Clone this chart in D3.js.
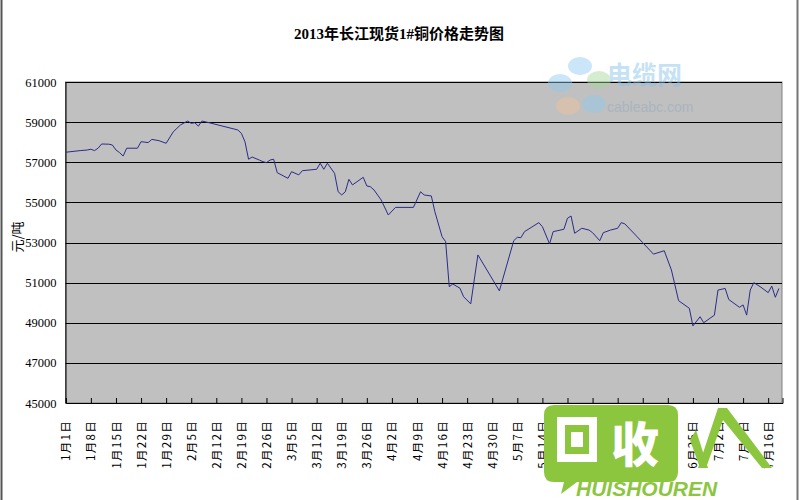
<!DOCTYPE html>
<html><head><meta charset="utf-8">
<script src="https://cdn.jsdelivr.net/npm/d3@7/dist/d3.min.js"></script>
<style>body{margin:0;background:#fff}svg{display:block}</style>
</head><body>
<svg id="c" width="800" height="500"></svg>
<script>
const title = "2013年长江现货1#铜价格走势图";
const yTitle = "元/吨";
const dates = ["2013-01-01","2013-01-05","2013-01-07","2013-01-08","2013-01-09","2013-01-10","2013-01-11","2013-01-13","2013-01-14","2013-01-15","2013-01-16","2013-01-17","2013-01-18","2013-01-21","2013-01-22","2013-01-24","2013-01-25","2013-01-27","2013-01-29","2013-01-31","2013-02-01","2013-02-02","2013-02-04","2013-02-05","2013-02-06","2013-02-07","2013-02-08","2013-02-10","2013-02-18","2013-02-19","2013-02-20","2013-02-21","2013-02-22","2013-02-24","2013-02-25","2013-02-26","2013-02-27","2013-02-28","2013-03-01","2013-03-04","2013-03-05","2013-03-07","2013-03-08","2013-03-12","2013-03-13","2013-03-14","2013-03-15","2013-03-17","2013-03-18","2013-03-19","2013-03-20","2013-03-21","2013-03-22","2013-03-25","2013-03-26","2013-03-27","2013-03-28","2013-03-30","2013-04-01","2013-04-03","2013-04-08","2013-04-10","2013-04-11","2013-04-13","2013-04-14","2013-04-16","2013-04-17","2013-04-18","2013-04-19","2013-04-21","2013-04-22","2013-04-24","2013-04-26","2013-05-02","2013-05-06","2013-05-07","2013-05-08","2013-05-09","2013-05-13","2013-05-14","2013-05-16","2013-05-17","2013-05-20","2013-05-21","2013-05-22","2013-05-23","2013-05-25","2013-05-27","2013-05-28","2013-05-30","2013-05-31","2013-06-02","2013-06-04","2013-06-05","2013-06-06","2013-06-09","2013-06-11","2013-06-14","2013-06-17","2013-06-19","2013-06-21","2013-06-24","2013-06-25","2013-06-27","2013-06-28","2013-07-01","2013-07-02","2013-07-04","2013-07-05","2013-07-08","2013-07-09","2013-07-10","2013-07-11","2013-07-12","2013-07-14","2013-07-16","2013-07-17","2013-07-18","2013-07-19"];
const prices = [57500,57580,57610,57650,57580,57700,57910,57900,57860,57610,57480,57310,57700,57700,58025,57980,58140,58075,57945,58520,58690,58860,59055,58940,58970,58800,59055,58970,58610,58440,58020,57150,57260,57110,57030,56980,57110,57150,56480,56200,56530,56370,56580,56650,56950,56650,56950,56450,55530,55370,55530,56150,55870,56250,55820,55780,55620,55120,54370,54750,54750,55530,55370,55320,54530,53290,53040,50800,50930,50720,50300,49940,52380,50590,53090,53260,53240,53540,53990,53790,52930,53540,53660,54210,54320,53460,53710,53620,53490,53090,53490,53620,53710,53990,53930,53370,52990,52420,52590,51630,50100,49720,48840,49300,49000,49380,50630,50710,50160,49770,49890,49380,50630,51000,50770,50500,50830,50270,50710];
const yTicks = [45000,47000,49000,51000,53000,55000,57000,59000,61000];
const xTickDates = ["2013-01-01","2013-01-08","2013-01-15","2013-01-22","2013-01-29","2013-02-05","2013-02-12","2013-02-19","2013-02-26","2013-03-05","2013-03-12","2013-03-19","2013-03-26","2013-04-02","2013-04-09","2013-04-16","2013-04-23","2013-04-30","2013-05-07","2013-05-14","2013-05-21","2013-05-28","2013-06-04","2013-06-11","2013-06-18","2013-06-25","2013-07-02","2013-07-09","2013-07-16"];

const parse = d3.timeParse("%Y-%m-%d");
const data = dates.map((d,i)=>({date:parse(d), v:prices[i]}));
const svg = d3.select("#c");
const L=65.5, R=782, T=82, B=403;
const x = d3.scaleTime().domain([parse("2013-01-01"), parse("2013-07-20")]).range([L+0.3, R+0.5]);
const y = d3.scaleLinear().domain([45000,61000]).range([B,T]);

// chart frame
svg.append("line").attr("x1",1.5).attr("x2",1.5).attr("y1",0).attr("y2",500).attr("stroke","#555").attr("stroke-width",2);
svg.append("line").attr("x1",797.5).attr("x2",797.5).attr("y1",0).attr("y2",500).attr("stroke","#777").attr("stroke-width",2);

// plot area
svg.append("rect").attr("x",L).attr("y",T).attr("width",R-L).attr("height",B-T).attr("fill","#c0c0c0").attr("stroke","#808080");
// gridlines
svg.append("g").selectAll("line").data(yTicks.slice(1)).join("line")
  .attr("x1",L).attr("x2",R).attr("y1",d=>Math.round(y(d))+0.5).attr("y2",d=>Math.round(y(d))+0.5)
  .attr("stroke","#000").attr("stroke-width",1);

// watermark top (cableabc), overlays plot
const wm = svg.append("g").attr("opacity",0.45);
const petals = [[0,-22,"#8ccaf0"],[19,-8,"#a6d79a"],[14,16,"#8ccaf0"],[-12,18,"#f0c49a"],[-20,-5,"#8ccaf0"]];
petals.forEach(p=>wm.append("ellipse").attr("cx",580+p[0]).attr("cy",88+p[1]).attr("rx",12).attr("ry",9).attr("fill",p[2]));
wm.append("text").attr("x",607).attr("y",84).attr("font-family","Noto Sans CJK SC").attr("font-size",25).attr("font-weight",700).attr("fill","#7fbfea").text("电缆网");
wm.append("text").attr("x",607).attr("y",112).attr("font-family","Liberation Sans, Arial").attr("font-size",14).attr("fill","#8fa6be").text("cableabc.com");

// y axis
const ya = svg.append("g").attr("transform",`translate(${L},0)`)
  .call(d3.axisLeft(y).tickValues(yTicks).tickSize(0).tickPadding(9).tickFormat(d3.format("d")));
ya.select(".domain").attr("stroke","#000");
ya.selectAll("text").attr("font-family","Liberation Serif").attr("font-size",12.5).attr("fill","#000");

// x axis
const xa = svg.append("g").attr("transform",`translate(0,${B})`)
  .call(d3.axisBottom(x).tickValues(xTickDates.map(parse)).tickSize(-5).tickFormat(d=>(d.getMonth()+1)+"月"+d.getDate()+"日"));
xa.select(".domain").attr("stroke","#000");
xa.selectAll(".tick line").attr("stroke","#000");
xa.selectAll("text").attr("font-family","Noto Sans CJK SC").attr("font-size",11.5).attr("fill","#000")
  .attr("letter-spacing",1.3)
  .attr("transform","rotate(-90)").attr("text-anchor","end").attr("x",-17).attr("y",0).attr("dy","0.35em");

// line
svg.append("path").datum(data).attr("fill","none").attr("stroke","#2b2b8c").attr("stroke-width",1)
  .attr("d", d3.line().x(d=>x(d.date)).y(d=>y(d.v)));

// title
svg.append("text").attr("x",399).attr("y",39).attr("text-anchor","middle")
  .attr("font-family","Liberation Serif, Noto Sans CJK SC").attr("font-size",15).attr("font-weight",700).text(title);
svg.append("text").attr("transform","translate(22,237) rotate(-90)").attr("text-anchor","middle")
  .attr("font-family","Noto Sans CJK SC").attr("font-size",13).text(yTitle);

// watermark bottom (huishouren)
const g2 = svg.append("g");
g2.append("path").attr("d","M554,405 H668 Q678,405 678,415 V472 Q678,482 668,482 H577 L561,494 L564,482 H554 Q544,482 544,472 V415 Q544,405 554,405 Z").attr("fill","#8cc63f");
g2.append("rect").attr("x",557).attr("y",417).attr("width",40).attr("height",45).attr("fill","#fff");
g2.append("rect").attr("x",565).attr("y",425).attr("width",24).attr("height",29).attr("fill","#8cc63f");
g2.append("rect").attr("x",571).attr("y",432).attr("width",12).attr("height",15).attr("fill","#fff");
g2.append("text").attr("x",635).attr("y",462).attr("text-anchor","middle").attr("font-family","Noto Sans CJK SC").attr("font-weight",900).attr("font-size",48).attr("fill","#fff").text("收");
g2.append("path").attr("d","M690,440 L700,468 L708,468 L696,430 Z").attr("fill","#8cc63f");
g2.append("path").attr("d","M718,408 L727,408 L772,468 L762,468 L723,420 L706,468 L698,468 Z").attr("fill","#8cc63f");
g2.append("text").attr("x",576).attr("y",496).attr("font-family","Liberation Sans, Arial").attr("font-style","italic").attr("font-weight",700).attr("font-size",21).attr("fill","#8cc63f").text("HUISHOUREN");
</script>
</body></html>
